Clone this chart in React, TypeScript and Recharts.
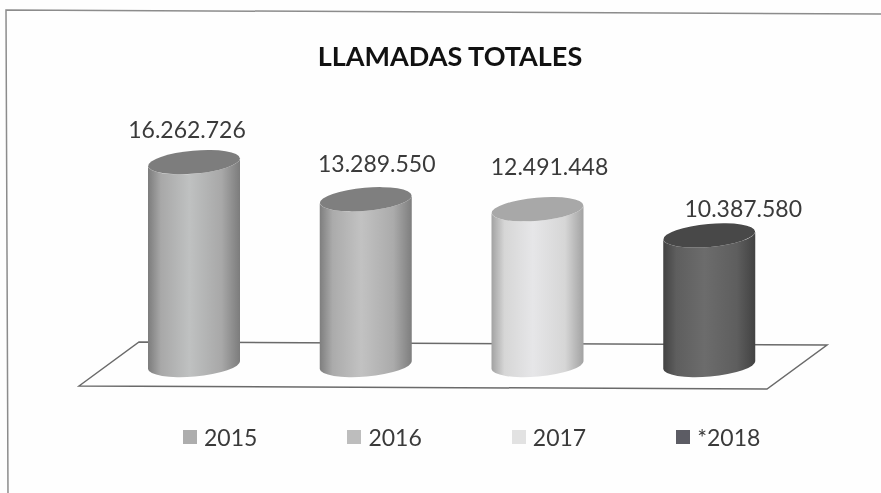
import React from 'react';
import { BarChart, Bar, XAxis, YAxis, LabelList, Legend } from 'recharts';

const years = ['2015', '2016', '2017', '*2018'];
const calls = [16262726, 13289550, 12491448, 10387580];
const valueLabels = ['16.262.726', '13.289.550', '12.491.448', '10.387.580'];

const data = years.map((year, i) => ({ year, calls: calls[i] }));

const FONT = 'Lato, "Open Sans", sans-serif';
const TEXT = '#3a3a3a';

// side, centre, top face, legend swatch
const SHADES = [
  { edge: '#7c7c7c', soft: '#a8a8a8', mid: '#bfc1c1', top: '#7d7d7d', swatch: '#adadad' },
  { edge: '#7e7e7e', soft: '#ababab', mid: '#c2c2c2', top: '#7f7f7f', swatch: '#bdbdbd' },
  { edge: '#a2a2a2', soft: '#d6d6d6', mid: '#e6e6e8', top: '#a8a8a8', swatch: '#e2e2e2' },
  { edge: '#424242', soft: '#5e5e5e', mid: '#6c6c6c', top: '#484848', swatch: '#5c5c64' },
];

// labels sit off-centre in the original
const LABEL_DX = [-7, 11, 12, 34];
const LABEL_Y = [138, 172, 175, 217];

const Cylinder = (props: any) => {
  const { x, y, width, height, index } = props;
  const rx = width / 2;
  const ry = 11.5;
  const tilt = 4;
  const bottom = y + height;
  const shade = SHADES[index];
  const body = `M${x},${y + tilt} L${x},${bottom + tilt} A${rx},${ry} -5 0 0 ${x + width},${bottom - tilt} L${x + width},${y - tilt} A${rx},${ry} -5 0 1 ${x},${y + tilt} Z`;
  return (
    <g>
      <path d={body} fill={`url(#cyl${index})`} />
      <ellipse cx={x + rx} cy={y} rx={rx} ry={ry} fill={shade.top} transform={`rotate(-5 ${x + rx} ${y})`} />
    </g>
  );
};

const ValueLabel = (props: any) => {
  const { x, width, index } = props;
  return (
    <text x={x + width / 2 + LABEL_DX[index]} y={LABEL_Y[index]} textAnchor="middle" fontFamily={FONT} fontSize={23} fill={TEXT}>
      {valueLabels[index]}
    </text>
  );
};

const LegendRow = () => (
  <div style={{ position: 'absolute', left: 0, top: 0, width: 881, height: 0 }}>
    {years.map((year, i) => (
      <div key={year} style={{ position: 'absolute', left: 183 + i * 164.4, top: 423, display: 'flex', alignItems: 'center', fontFamily: FONT, fontSize: 23, color: TEXT, lineHeight: '28px' }}>
        <span style={{ width: 14, height: 14, background: SHADES[i].swatch, marginRight: 7, display: 'inline-block' }} />
        {year}
      </div>
    ))}
  </div>
);

export default function App() {
  return (
    <div style={{ position: 'absolute', left: 0, top: 0, width: 881, height: 493, background: '#fefefe', overflow: 'hidden', filter: 'blur(0.5px)' }}>
      <svg width={881} height={493} style={{ position: 'absolute', left: 0, top: 0 }}>
        <path d="M8,493 L6,10 L881,14" fill="none" stroke="#8c8c8c" strokeWidth={1.5} />
        <path d="M79,386 L139,342 L827,345 L767,389 Z" fill="none" stroke="#6a6a6a" strokeWidth={1.5} />
      </svg>
      <div style={{ position: 'absolute', left: 0, width: 900, top: 40, textAlign: 'center', fontFamily: FONT, fontWeight: 700, fontSize: 27, color: '#111', lineHeight: '32px' }}>
        LLAMADAS TOTALES
      </div>
      <BarChart
        width={881}
        height={493}
        data={data}
        margin={{ top: 138, right: 86, bottom: 128, left: 108 }}
        style={{ position: 'absolute', left: 0, top: 0 }}
      >
        <defs>
          {SHADES.map((s, i) => (
            <linearGradient key={i} id={`cyl${i}`} x1="0" y1="0" x2="1" y2="0">
              <stop offset="0" stopColor={s.edge} />
              <stop offset="0.14" stopColor={s.soft} />
              <stop offset="0.45" stopColor={s.mid} />
              <stop offset="0.8" stopColor={s.soft} />
              <stop offset="1" stopColor={s.edge} />
            </linearGradient>
          ))}
        </defs>
        <XAxis dataKey="year" hide />
        <YAxis hide domain={[0, 18200000]} />
        <Legend content={<LegendRow />} wrapperStyle={{ position: 'absolute', left: 0, top: 0, width: 881, height: 0 }} height={0} />
        <Bar dataKey="calls" barSize={92} shape={<Cylinder />} isAnimationActive={false}>
          <LabelList dataKey="calls" content={<ValueLabel />} />
        </Bar>
      </BarChart>
    </div>
  );
}
